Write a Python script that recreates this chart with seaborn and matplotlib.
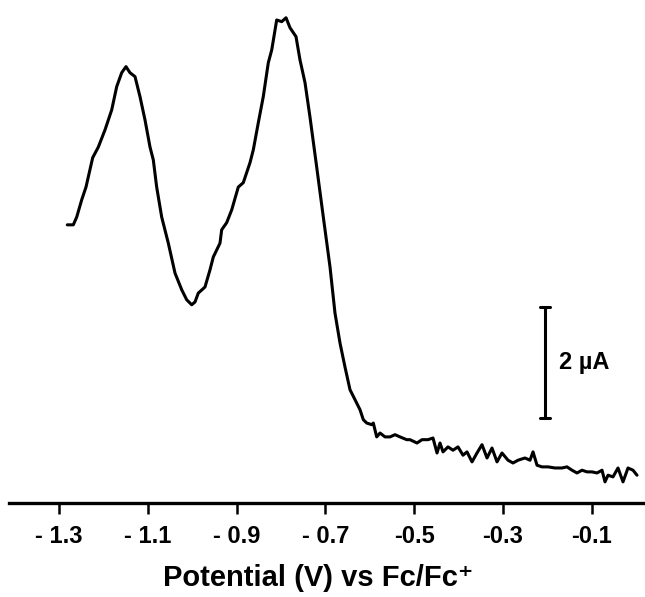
import numpy as np
import pandas as pd
import matplotlib
matplotlib.use("Agg")
import matplotlib.pyplot as plt
import seaborn as sns

# potenziale (V) e corrente (uA)
potential = [-1.2813, -1.2678, -1.2601, -1.2489, -1.2392, -1.2318, -1.2241, -1.2115,
             -1.1964, -1.1813, -1.1700, -1.1588, -1.1491, -1.1401, -1.1288, -1.1176,
             -1.1063, -1.0950, -1.0876, -1.0800, -1.0687, -1.0538, -1.0387, -1.0236,
             -1.0124, -1.0011, -0.9937, -0.9863, -0.9712, -0.9599, -0.9525, -0.9374,
             -0.9336, -0.9223, -0.9110, -0.8962, -0.8849, -0.8698, -0.8624, -0.8511,
             -0.8399, -0.8286, -0.8209, -0.8097, -0.7984, -0.7887, -0.7797, -0.7662,
             -0.7572, -0.7459, -0.7347, -0.7196, -0.7047, -0.6896, -0.6784, -0.6671,
             -0.6559, -0.6446, -0.6333, -0.6221, -0.6146, -0.6070, -0.5957, -0.5921,
             -0.5845, -0.5770, -0.5658, -0.5545, -0.5432, -0.5320, -0.5169, -0.5095,
             -0.4937, -0.4824, -0.4689, -0.4577, -0.4486, -0.4419, -0.4351, -0.4239,
             -0.4126, -0.4014, -0.3901, -0.3811, -0.3698, -0.3586, -0.3473, -0.3360,
             -0.3248, -0.3135, -0.3023, -0.2887, -0.2775, -0.2662, -0.2505, -0.2392,
             -0.2324, -0.2234, -0.2122, -0.1986, -0.1829, -0.1671, -0.1559, -0.1446,
             -0.1333, -0.1221, -0.1108, -0.0995, -0.0883, -0.0770, -0.0703, -0.0635,
             -0.0523, -0.0410, -0.0297, -0.0185, -0.0072, 0.0018]
current = [5.01, 5.01, 5.15, 5.46, 5.69, 5.95, 6.22, 6.41,
           6.72, 7.08, 7.50, 7.75, 7.86, 7.75, 7.68, 7.32,
           6.90, 6.41, 6.18, 5.69, 5.15, 4.68, 4.14, 3.84,
           3.66, 3.57, 3.62, 3.78, 3.89, 4.20, 4.43, 4.68,
           4.92, 5.05, 5.28, 5.69, 5.77, 6.13, 6.36, 6.85,
           7.32, 7.93, 8.16, 8.70, 8.67, 8.74, 8.56, 8.40,
           7.98, 7.57, 6.95, 6.05, 5.15, 4.25, 3.42, 2.88,
           2.45, 2.04, 1.86, 1.68, 1.50, 1.44, 1.41, 1.44,
           1.19, 1.26, 1.19, 1.19, 1.23, 1.19, 1.14, 1.14,
           1.08, 1.14, 1.14, 1.17, 0.90, 1.08, 0.92, 1.01,
           0.95, 1.01, 0.86, 0.92, 0.74, 0.90, 1.05, 0.81,
           0.99, 0.74, 0.90, 0.77, 0.72, 0.77, 0.81, 0.77,
           0.92, 0.68, 0.65, 0.65, 0.63, 0.63, 0.65, 0.59,
           0.54, 0.59, 0.56, 0.56, 0.54, 0.59, 0.38, 0.50,
           0.47, 0.63, 0.38, 0.63, 0.59, 0.50]

tick_pos = [-1.3, -1.1, -0.9, -0.7, -0.5, -0.3, -0.1]
tick_lab = ["- 1.3", "- 1.1", "- 0.9", "- 0.7", "-0.5", "-0.3", "-0.1"]

# barra di scala 2 uA
bar_x = -0.2054
bar_y0 = 1.53
bar_len = 2.0

df = pd.DataFrame({"E": potential, "I": current})

sns.set_style("white", {"text.color": "black", "axes.labelcolor": "black",
                        "xtick.color": "black"})
plt.rcParams["font.family"] = ["Liberation Sans", "DejaVu Sans"]
plt.rcParams["font.weight"] = "bold"

fig = plt.figure(figsize=(6.45, 5.97), dpi=100)
ax = fig.add_axes([9 / 645, 0, 636 / 645, 592 / 597])
sns.lineplot(data=df, x="E", y="I", color="black", lw=2.2, ax=ax, sort=False)

ax.set_xlim(-1.4126, 0.0198)
ax.set_ylim(-1.694, 8.97)
for s in ["top", "right", "left"]:
    ax.spines[s].set_visible(False)
# asse x sulla corrente zero
ax.spines["bottom"].set_position(("data", 0))
ax.spines["bottom"].set_linewidth(2.4)
ax.spines["bottom"].set_color("black")
ax.set_yticks([])
ax.set_ylabel("")
ax.set_xticks(tick_pos)
ax.set_xticklabels(tick_lab, fontsize=17, fontweight="bold", color="black")
ax.tick_params(axis="x", which="major", length=0, pad=16)

# tacche dell'asse x disegnate dentro gli assi
ax.vlines(tick_pos, -0.19, 0, color="black", lw=1.8)

ax.set_xlabel("Potential (V) vs Fc/Fc\u207a", fontsize=21, fontweight="bold",
              color="black")
ax.xaxis.set_label_coords(0.486, 0.055)

# barra di scala
ax.plot([bar_x, bar_x], [bar_y0, bar_y0 + bar_len], color="black", lw=2.2)
cap = 0.0113
for yy in [bar_y0, bar_y0 + bar_len]:
    ax.plot([bar_x - cap, bar_x + cap], [yy, yy], color="black", lw=2.2)
ax.text(bar_x + 0.0315, bar_y0 + bar_len / 2, "2 \u00b5A", fontsize=17, fontweight="bold",
        va="center", ha="left", color="black")

fig.savefig("out.png", dpi=100)
